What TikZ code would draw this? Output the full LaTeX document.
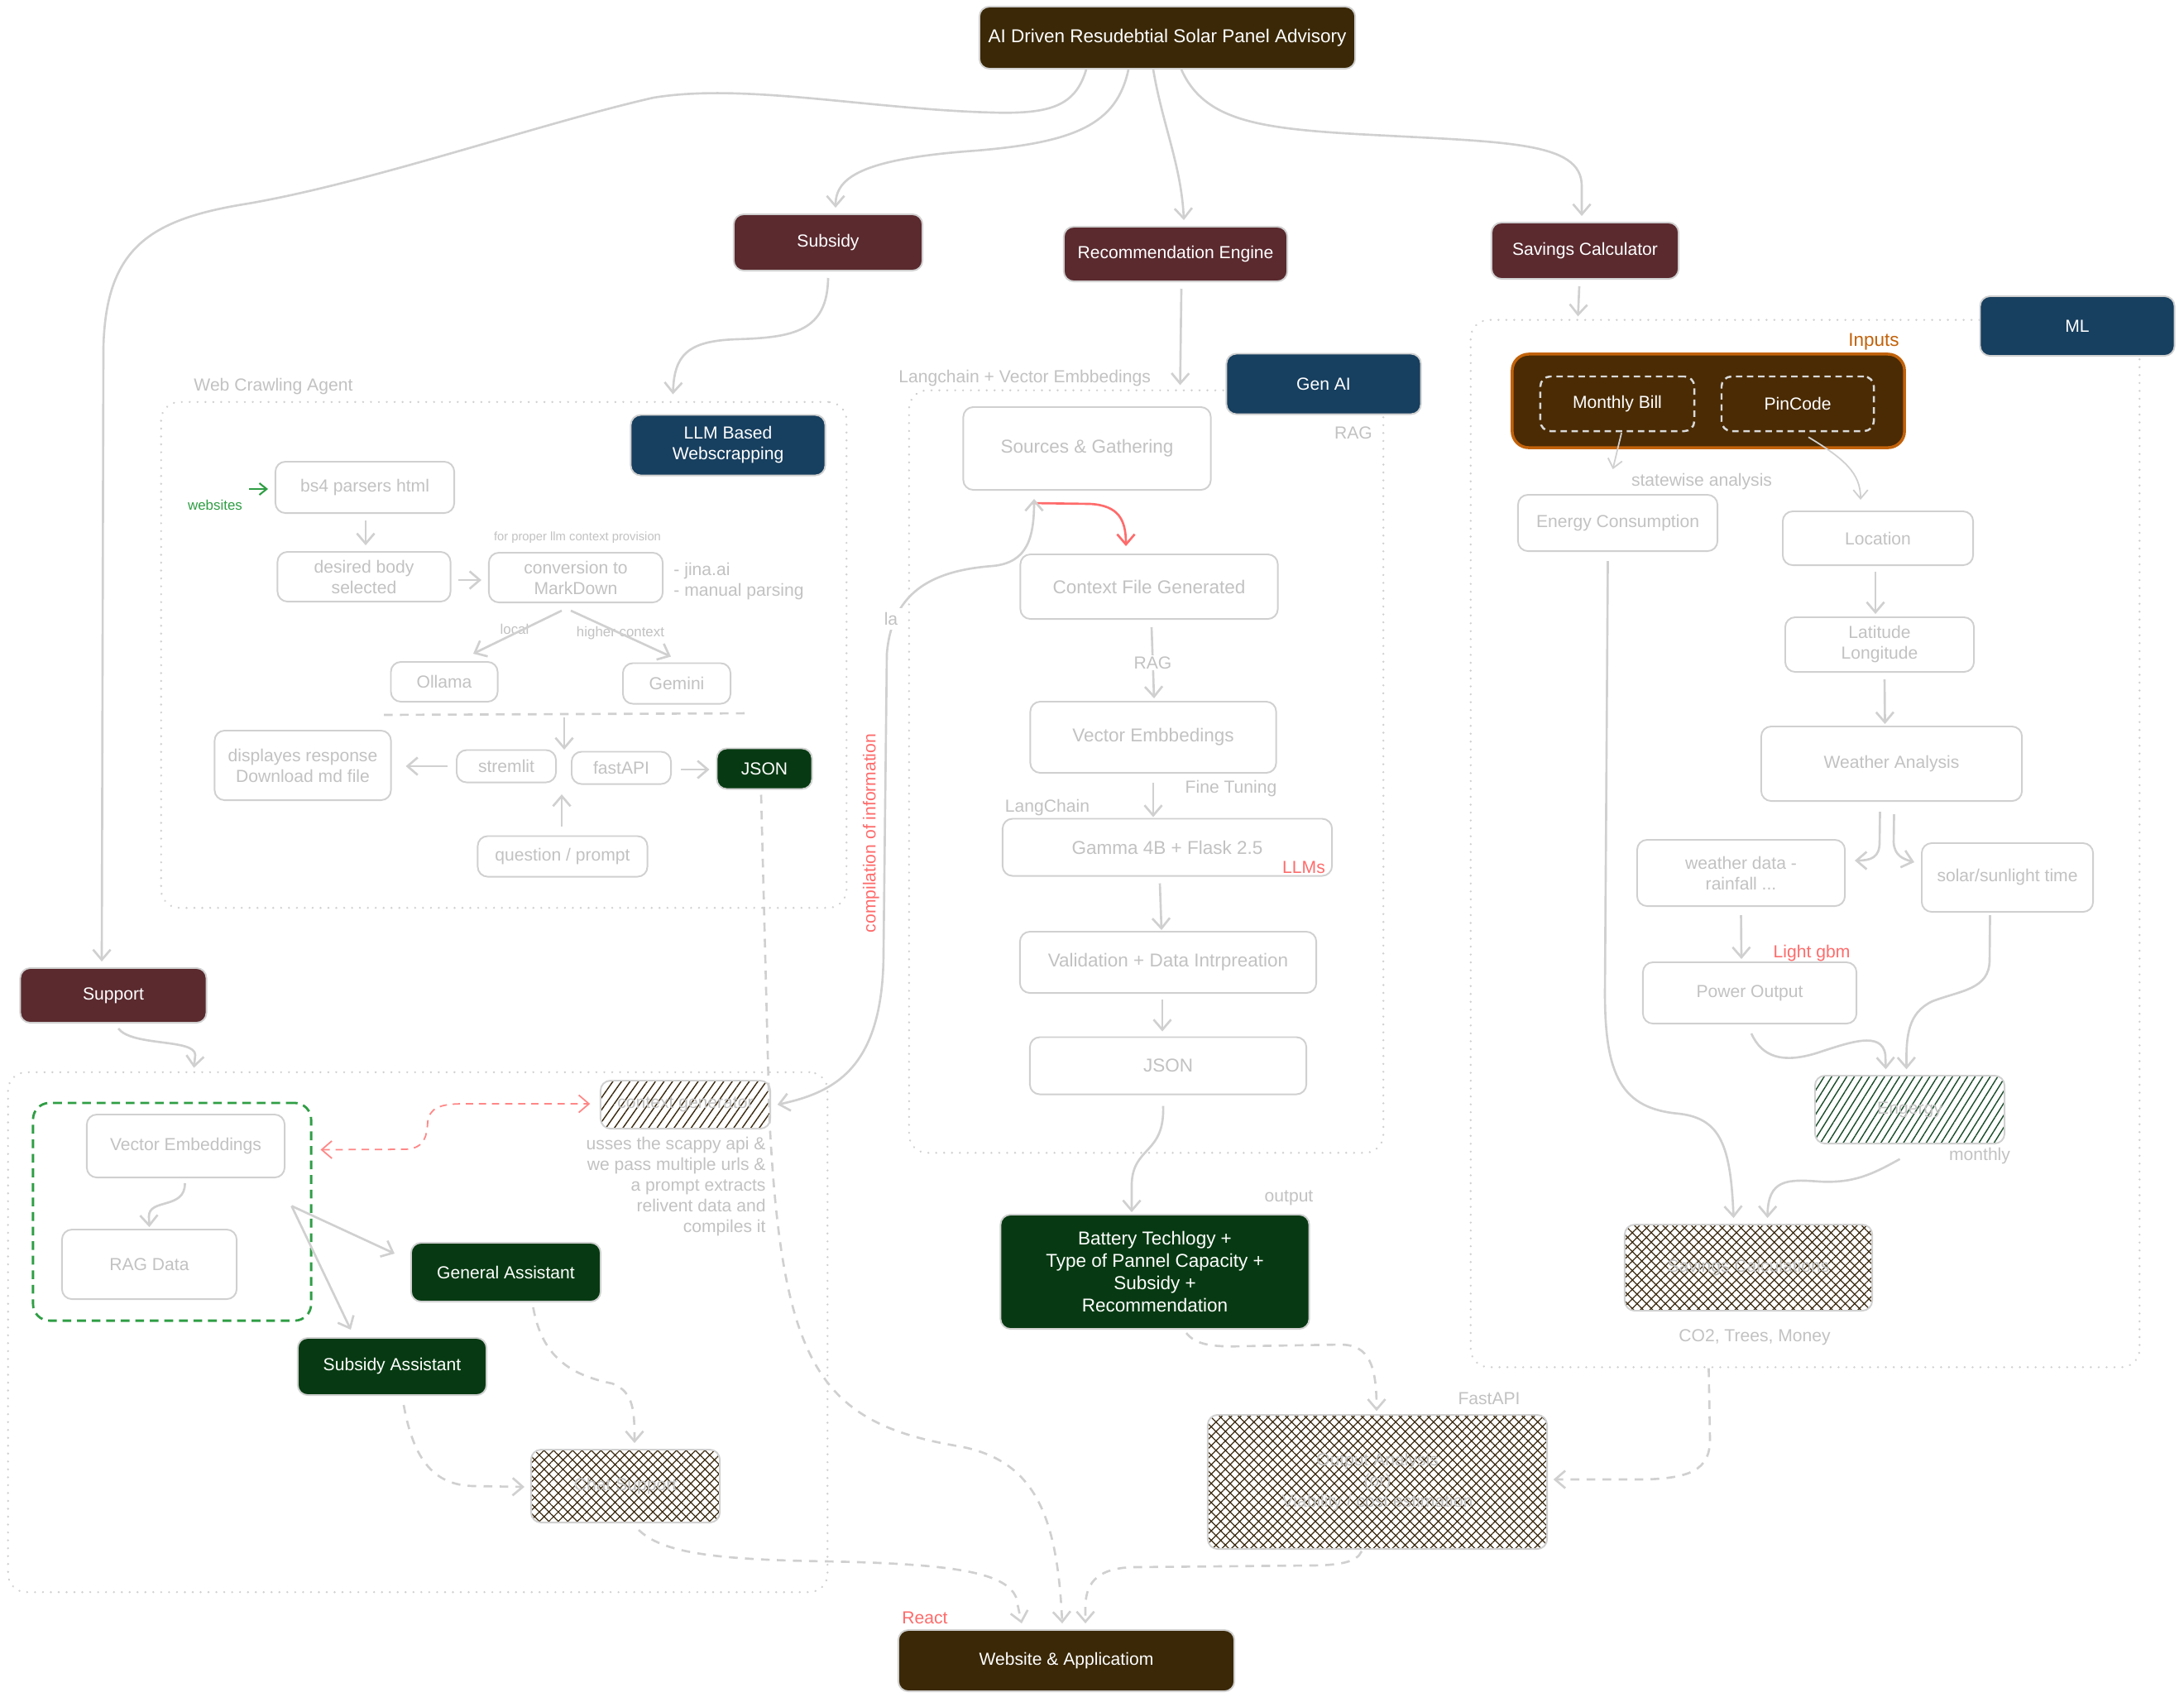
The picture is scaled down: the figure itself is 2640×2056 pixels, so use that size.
\documentclass[tikz,border=0pt]{standalone}
\usepackage{fontspec}
\setmainfont{Liberation Sans}
\usetikzlibrary{arrows.meta,calc,patterns.meta}
\definecolor{cBrown}{HTML}{3A2807}
\definecolor{cMaroon}{HTML}{5A2A2F}
\definecolor{cBlue}{HTML}{173F5F}
\definecolor{cGreen}{HTML}{073A12}
\definecolor{cGray}{HTML}{D0D0D0}
\definecolor{cText}{HTML}{C2C2C2}
\definecolor{cRed}{HTML}{FF6B6B}
\definecolor{cRedL}{HTML}{FF8787}
\definecolor{cGreenL}{HTML}{2F9E44}
\definecolor{cOrange}{HTML}{C2620A}
\definecolor{cInputs}{HTML}{4A2B04}
\definecolor{cHatch}{HTML}{3B2A10}
\definecolor{cHatchG}{HTML}{1B4D2B}
\newcommand\szA{\fontsize{6}{7.1}\selectfont}
\newcommand\szB{\fontsize{6.4}{7.6}\selectfont}
\newcommand\szS{\fontsize{4.2}{5}\selectfont}
\newcommand\szM{\fontsize{4.8}{5.6}\selectfont}
\newcommand\szT{\fontsize{6.4}{7.6}\selectfont}
\begin{document}
\begin{tikzpicture}[x=0.01cm,y=-0.01cm,
  base/.style={rounded corners=0.12cm,inner sep=0pt,align=center,line width=0.55pt},
  gbox/.style={base,draw=cGray,text=cText,font=\szA},
  dbox/.style={base,draw=cGray,text=white,font=\szA},
  hbox/.style={base,draw=cGray,text=cText,font=\szA},
  xhatch/.style={pattern={Hatch[angle=45,distance=2.3pt,line width=0.35pt]},pattern color=cHatch},
  conn/.style={draw=cGray,line width=0.75pt,->,>={Straight Barb[length=3.5pt,width=6pt]}},
  dconn/.style={conn,dash pattern=on 3pt off 2.5pt},
  cont/.style={draw=cGray,line width=0.75pt,dash pattern=on 0.01pt off 2.7pt,line cap=round,rounded corners=0.22cm,inner sep=0pt},
  lbl/.style={text=cText,font=\szA,inner sep=0.5pt},
]
\useasboundingbox (0,0) rectangle (2640,2056);
\fill[white] (0,0) rectangle (2640,2056);

% ---------- containers ----------
\node[cont,minimum width=8.28cm,minimum height=6.11cm] (webc) at (609,791.5) {};
\node[cont,minimum width=5.73cm,minimum height=9.21cm] (genc) at (1385.5,932.5) {};
\node[cont,minimum width=8.08cm,minimum height=12.65cm] (mlc) at (2182,1019.5) {};
\node[cont,minimum width=9.90cm,minimum height=6.28cm] (supc) at (505,1610) {};

% ---------- top level ----------
\node[dbox,fill=cBrown,minimum width=4.54cm,minimum height=0.75cm,font=\szT] (title) at (1411,45.5) {AI Driven Resudebtial Solar Panel Advisory};
\node[dbox,fill=cMaroon,minimum width=2.28cm,minimum height=0.68cm] (subs) at (1001,293) {Subsidy};
\node[dbox,fill=cMaroon,minimum width=2.70cm,minimum height=0.66cm] (rec) at (1421,307) {Recommendation Engine};
\node[dbox,fill=cMaroon,minimum width=2.26cm,minimum height=0.68cm] (sav) at (1916,303) {Savings Calculator};
\node[dbox,fill=cBlue,minimum width=2.35cm,minimum height=0.72cm] (ml) at (2511,394) {ML};
\node[dbox,fill=cBlue,minimum width=2.35cm,minimum height=0.73cm] (genai) at (1600,464) {Gen AI};
\node[dbox,fill=cBlue,minimum width=2.35cm,minimum height=0.73cm] (llmw) at (880,538) {LLM Based\\Webscrapping};
\node[dbox,fill=cMaroon,minimum width=2.25cm,minimum height=0.66cm] (sup) at (137,1203) {Support};

% ---------- web crawling ----------
\node[lbl,anchor=west] (lwca) at (232,467) {Web Crawling Agent};
\node[gbox,minimum width=2.16cm,minimum height=0.62cm] (bs) at (441,589) {bs4 parsers html};
\node[gbox,minimum width=2.09cm,minimum height=0.60cm] (desired) at (440,697) {desired body\\selected};
\node[gbox,minimum width=2.10cm,minimum height=0.60cm] (conv) at (696,698) {conversion to\\MarkDown};
\node[gbox,minimum width=1.29cm,minimum height=0.48cm] (oll) at (537,824) {Ollama};
\node[gbox,minimum width=1.30cm,minimum height=0.49cm] (gem) at (818,826) {Gemini};
\node[gbox,minimum width=2.13cm,minimum height=0.84cm] (disp) at (366,925) {displayes response\\Download md file};
\node[gbox,minimum width=1.20cm,minimum height=0.39cm] (strm) at (612,926) {stremlit};
\node[gbox,minimum width=1.20cm,minimum height=0.39cm] (fapi) at (751,928) {fastAPI};
\node[dbox,fill=cGreen,minimum width=1.15cm,minimum height=0.49cm] (jsonw) at (924,929) {JSON};
\node[gbox,minimum width=2.05cm,minimum height=0.49cm] (quest) at (680,1035) {question / prompt};
\node[lbl,text=cGreenL,font=\szM] (lweb) at (260,610) {websites};
\node[lbl,font=\szS] (lprov) at (698,650) {for proper llm context provision};
\node[lbl,anchor=west] (ljina) at (812,690) {- jina.ai};
\node[lbl,anchor=west] (lman) at (812,715) {- manual parsing};
\node[lbl,font=\szM] (lloc) at (622,760) {local};
\node[lbl,font=\szM] (lhig) at (750,765) {higher context};
\coordinate (wsA) at (301,591);
\coordinate (sepL) at (464,864);
\coordinate (sepR) at (907,862);
\coordinate (sepM) at (682,867);
\coordinate (midSF) at (682,906);
\coordinate (qtop) at (679,960);
\draw[conn,draw=cGreenL,line width=0.6pt,>={Straight Barb[length=2.5pt,width=4pt]}] (wsA) -- ($(bs.west)+(-8,2)$);
\draw[conn] ($(bs.south)+(1,8)$) -- ($(desired.north)+(2,-7)$);
\draw[conn] ($(desired.east)+(8,4)$) -- ($(conv.west)+(-8,3)$);
\draw[conn] ($(conv.south)+(-17,9)$) -- ($(oll.north)+(35,-9)$);
\draw[conn] ($(conv.south)+(-6,9)$) -- ($(gem.north)+(-7,-7)$);
\draw[cGray,line width=0.75pt,dash pattern=on 3pt off 2.5pt] (sepL) -- (sepR);
\draw[conn] (sepM) -- (midSF);
\draw[conn] ($(strm.west)+(-10,0)$) -- ($(disp.east)+(17,1)$);
\draw[conn] ($(fapi.east)+(11,2)$) -- ($(jsonw.west)+(-8,1)$);
\draw[conn] ($(quest.north)+(-1,-11)$) -- (qtop);

% ---------- gen AI ----------
\node[lbl,anchor=west] (llang) at (1084,457) {Langchain + Vector Embbedings};
\node[lbl] (lrag1) at (1636,523) {RAG};
\node[gbox,font=\szB,minimum width=2.99cm,minimum height=1.00cm] (src) at (1314,542) {Sources \& Gathering};
\node[gbox,font=\szB,minimum width=3.11cm,minimum height=0.78cm] (ctx) at (1389,709) {Context File Generated};
\node[gbox,font=\szB,minimum width=2.97cm,minimum height=0.86cm] (vec) at (1394,891) {Vector Embbedings};
\node[gbox,font=\szB,minimum width=3.98cm,minimum height=0.69cm] (gam) at (1411,1024) {Gamma 4B + Flask 2.5};
\node[gbox,font=\szB,minimum width=3.58cm,minimum height=0.74cm] (val) at (1412,1163) {Validation + Data Intrpreation};
\node[gbox,font=\szB,minimum width=3.34cm,minimum height=0.69cm] (jsong) at (1412,1288) {JSON};
\node[lbl] (lfine) at (1488,953) {Fine Tuning};
\node[lbl] (llc) at (1266,976) {LangChain};
\node[lbl,text=cRed] (lllm) at (1576,1048) {LLMs};
\node[dbox,fill=cGreen,font=\szB,minimum width=3.73cm,minimum height=1.38cm] (bat) at (1396,1537) {Battery Techlogy +\\Type of Pannel Capacity +\\Subsidy +\\Recommendation};
\node[lbl] (lout) at (1558,1448) {output};
\node[hbox,xhatch,minimum width=4.10cm,minimum height=1.62cm] (out) at (1665,1791) {Output Analysis\\(or)\\Viability / cost estimation};
\node[lbl] (lfast) at (1800,1690) {FastAPI};
\node[dbox,fill=cBrown,minimum width=4.06cm,minimum height=0.74cm] (web) at (1289,2007) {Website \& Applicatiom};
\node[lbl,text=cRed] (lreact) at (1118,1955) {React};

\draw[conn,draw=cRed] ($(src.south)+(-66,15)$) -- (1318,609) .. controls (1352,611) and (1361,628) .. ($(ctx.north)+(-28,-9)$);
\draw[conn] ($(ctx.south)+(3,9)$) -- node[lbl,fill=white] (lrag2) {RAG} ($(vec.north)+(1,-3)$);
\draw[conn] ($(vec.south)+(0,11)$) -- ($(gam.north)+(-17,-1)$);
\draw[conn] ($(gam.south)+(-9,8)$) -- ($(val.north)+(-8,-1)$);
\draw[conn] ($(val.south)+(-7,7)$) -- ($(jsong.north)+(-7,-6)$);
\draw[conn] ($(jsong.south)+(-6,13)$) .. controls (1408,1395) and (1370,1385) .. (1368,1430) -- ($(bat.north)+(-28,-2)$);

% ---------- ML ----------
\node[base,fill=cInputs,draw=cOrange,line width=1pt,rounded corners=0.2cm,minimum width=4.74cm,minimum height=1.13cm] (inp) at (2065,484.5) {};
\node[lbl,text=cOrange,font=\szB] (linp) at (2265,413) {Inputs};
\node[base,draw=white!85!black,dash pattern=on 2.2pt off 1.6pt,line width=0.7pt,text=white,font=\szA,minimum width=1.86cm,minimum height=0.66cm] (mbill) at (1955,488) {Monthly Bill};
\node[base,draw=white!85!black,dash pattern=on 2.2pt off 1.6pt,line width=0.7pt,text=white,font=\szA,minimum width=1.84cm,minimum height=0.66cm] (pin) at (2173,488) {PinCode};
\node[gbox,minimum width=2.41cm,minimum height=0.68cm] (econ) at (1955.5,632) {Energy Consumption};
\node[lbl] (lstate) at (2057,582) {statewise analysis};
\node[gbox,minimum width=2.30cm,minimum height=0.65cm] (loc) at (2270,650.5) {Location};
\node[gbox,minimum width=2.28cm,minimum height=0.66cm] (lat) at (2272,779) {Latitude\\Longitude};
\node[gbox,minimum width=3.15cm,minimum height=0.90cm] (wea) at (2286.5,923) {Weather Analysis};
\node[gbox,minimum width=2.51cm,minimum height=0.80cm] (wdat) at (2104.5,1055) {weather data -\\rainfall ...};
\node[gbox,minimum width=2.07cm,minimum height=0.83cm] (sol) at (2426.5,1060.5) {solar/sunlight time};
\node[gbox,minimum width=2.58cm,minimum height=0.74cm] (pow) at (2115,1200) {Power Output};
\node[lbl,text=cRed] (lgbm) at (2190,1152) {Light gbm};
\node[hbox,pattern={Lines[angle=58,distance=2.2pt,line width=0.4pt]},pattern color=cHatchG,minimum width=2.29cm,minimum height=0.82cm] (eng) at (2308.5,1341) {Engergy};
\node[lbl] (lmon) at (2393,1397) {monthly};
\node[hbox,xhatch,minimum width=2.99cm,minimum height=1.04cm] (scalc) at (2113.5,1532) {Savings Calculations};
\node[lbl] (lco2) at (2121,1616) {CO2, Trees, Money};

\draw[conn,line width=0.5pt,>={Straight Barb[length=3pt,width=5pt]}] ($(mbill.south)+(5,1)$) -- ($(econ.north)+(-6,-30)$);
\draw[conn,line width=0.5pt,>={Straight Barb[length=3pt,width=5pt]}] ($(pin.south)+(13,6)$) .. controls (2230,555) and (2249,572) .. ($(loc.north)+(-21,-13)$);
\draw[conn] ($(loc.south)+(-3,7)$) -- ($(lat.north)+(-5,-3)$);
\draw[conn] ($(lat.south)+(6,8)$) -- ($(wea.north)+(-8,-2)$);
\draw[conn] ($(wea.south)+(-14,12)$) -- (2272,1018) .. controls (2272,1036) and (2262,1040) .. ($(wdat.east)+(11,-15)$);
\draw[conn] ($(wea.south)+(3,15)$) -- (2289,1018) .. controls (2290,1034) and (2300,1038) .. ($(sol.north west)+(-8,24)$);
\draw[conn] ($(wdat.south)+(0,10)$) -- ($(pow.north)+(-10,-3)$);
\draw[conn] ($(pow.south)+(2,11)$) .. controls (2130,1278) and (2155,1285) .. (2195,1273) .. controls (2235,1260) and (2275,1245) .. (2279,1275) -- ($(eng.north)+(-29,-7)$);
\draw[conn] ($(sol.south)+(-21,3)$) -- (2405,1160) .. controls (2405,1196) and (2370,1197) .. (2336,1210) .. controls (2306,1224) and (2304,1252) .. ($(eng.north)+(-4,-7)$);
\draw[conn] ($(eng.south)+(-12,18)$) .. controls (2262,1420) and (2240,1430) .. (2200,1428) .. controls (2160,1425) and (2137,1425) .. ($(scalc.north)+(23,-7)$);
\draw[conn] ($(econ.south)+(-12,11)$) -- (1940,1200) .. controls (1940,1300) and (1960,1340) .. (2030,1346) .. controls (2080,1352) and (2092,1385) .. ($(scalc.north)+(-18,-7)$);

% ---------- support ----------
\node[base,draw=cGreenL,dash pattern=on 3pt off 2pt,line width=0.8pt,rounded corners=0.2cm,minimum width=3.36cm,minimum height=2.63cm] (gbx) at (208,1464.5) {};
\node[gbox,minimum width=2.39cm,minimum height=0.76cm] (vec2) at (224.5,1385) {Vector Embeddings};
\node[gbox,minimum width=2.11cm,minimum height=0.84cm] (rag) at (180.5,1528) {RAG Data};
\node[hbox,pattern={Lines[angle=55,distance=2.4pt,line width=0.4pt]},pattern color=cHatch,minimum width=2.05cm,minimum height=0.58cm] (ctg) at (828.5,1335) {context generator};
\node[lbl,align=right,anchor=north east] (lscr) at (928,1372) {usses the scappy api \&\\we pass multiple urls \&\\a prompt extracts\\relivent data and\\compiles it};
\node[dbox,fill=cGreen,minimum width=2.29cm,minimum height=0.71cm] (gena) at (611.5,1537.5) {General Assistant};
\node[dbox,fill=cGreen,minimum width=2.28cm,minimum height=0.69cm] (suba) at (474,1651.5) {Subsidy Assistant};
\node[hbox,xhatch,minimum width=2.28cm,minimum height=0.88cm] (chat) at (756,1796) {Chat Support};

\draw[conn] ($(vec2.south)+(-1,6)$) .. controls (224,1462) and (180,1448) .. (180,1470) -- ($(rag.north)+(0,-2)$);
\draw[conn] ($(gbx.east)+(-25,-7)$) -- ($(gena.north west)+(-19,14)$);
\draw[conn] ($(gbx.east)+(-25,-7)$) -- ($(suba.north)+(-50,-9)$);
\draw[conn,draw=cRedL,line width=0.5pt,dash pattern=on 2.5pt off 2pt,<->] ($(gbx.east)+(10,-75)$) -- (490,1389) .. controls (514,1388) and (516,1372) .. (517,1356) .. controls (519,1340) and (530,1334) .. (560,1334) -- ($(ctg.west)+(-12,-1)$);
\draw[dconn] ($(gena.south)+(33,6)$) .. controls (655,1640) and (690,1662) .. (740,1672) .. controls (766,1682) and (767,1705) .. ($(chat.north)+(11,-7)$);
\draw[dconn] ($(suba.south)+(14,11)$) .. controls (500,1765) and (525,1796) .. (575,1796) -- ($(chat.west)+(-7,1)$);

% compilation of information arrow
\draw[conn,<->] ($(ctg.east)+(8,0)$) .. controls (1010,1320) and (1068,1290) .. (1068,1150) -- (1072,790) .. controls (1078,720) and (1120,690) .. (1200,684) .. controls (1242,680) and (1250,650) .. ($(src.south)+(-64,10)$);
\node[lbl,fill=white,inner sep=1.5pt] (lla) at (1077,748) {la};
\node[lbl,text=cRed,rotate=90] (lcomp) at (1053,1007) {compilation of information};

% ---------- top level connectors ----------
\draw[conn] ($(title.south)+(-98,0)$) .. controls (1300,128) and (1270,138) .. (1200,136) .. controls (1050,132) and (900,100) .. (790,118) .. controls (650,150) and (450,220) .. (300,246) .. controls (180,265) and (128,300) .. (125,420) -- ($(sup.north)+(-14,-7)$);
\draw[conn] ($(title.south)+(-47,0)$) .. controls (1350,150) and (1300,172) .. (1180,182) .. controls (1040,192) and (1010,215) .. ($(subs.north)+(9,-7)$);
\draw[conn] ($(title.south)+(-17,0)$) .. controls (1405,150) and (1428,200) .. ($(rec.north)+(10,-7)$);
\draw[conn] ($(title.south)+(17,0)$) .. controls (1455,145) and (1520,155) .. (1640,162) .. controls (1820,172) and (1912,170) .. (1912,225) -- ($(sav.north)+(-4,-7)$);
\draw[conn] ($(subs.south)+(0,8)$) .. controls (1000,400) and (960,408) .. (890,410) .. controls (830,412) and (815,430) .. ($(webc.north west)+(620,-8)$);
\draw[conn] ($(rec.south)+(7,8)$) -- ($(genc.north west)+(329,-5)$);
\draw[conn] ($(sav.south)+(-7,8)$) -- ($(mlc.north west)+(131,-3)$);
\draw[conn] ($(sup.south)+(6,6)$) .. controls (160,1265) and (236,1255) .. (236,1275) -- ($(supc.north west)+(226,-4)$);

% ---------- bottom connectors ----------
\draw[dconn] ($(jsonw.south)+(-4,6)$) -- (930,1350) .. controls (945,1650) and (990,1720) .. (1160,1748) .. controls (1250,1765) and (1278,1830) .. ($(web.north)+(-5,-7)$);
\draw[dconn] ($(chat.south)+(16,8)$) .. controls (800,1876) and (860,1885) .. (1000,1887) .. controls (1150,1890) and (1215,1900) .. (1228,1930) -- ($(web.north)+(-54,-7)$);
\draw[dconn] ($(bat.south)+(38,4)$) .. controls (1445,1625) and (1465,1628) .. (1500,1627) -- (1620,1625) .. controls (1655,1625) and (1664,1650) .. ($(out.north)+(-1,-4)$);
\draw[dconn] ($(mlc.south west)+(289,0)$) -- (2067,1740) .. controls (2067,1778) and (2040,1786) .. (1990,1788) -- ($(out.east)+(7,-3)$);
\draw[dconn] ($(out.south)+(-19,2)$) .. controls (1640,1888) and (1620,1892) .. (1580,1892) -- (1370,1894) .. controls (1330,1895) and (1313,1910) .. (1312,1940) -- ($(web.north)+(23,-7)$);
\end{tikzpicture}
\end{document}
